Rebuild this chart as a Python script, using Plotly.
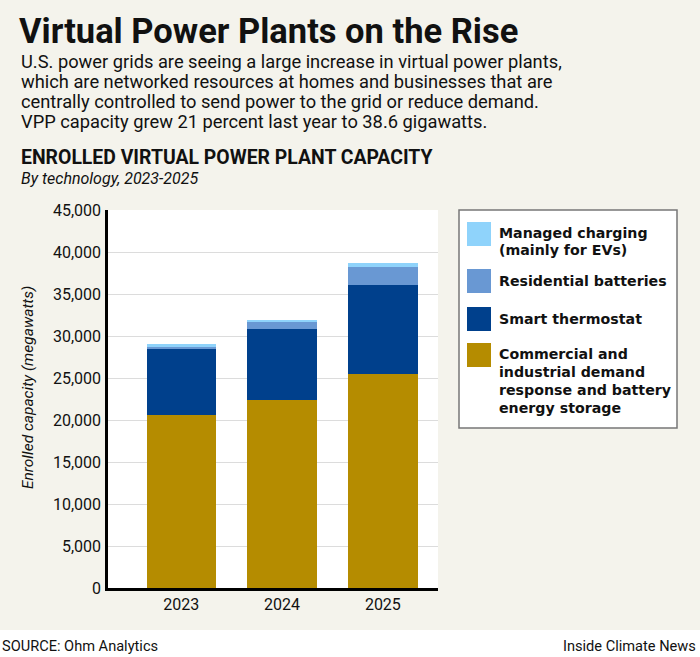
import plotly.graph_objects as go

# data (megawatts)
years = ["2023", "2024", "2025"]
commercial_industrial = [20600, 22400, 25500]
smart_thermostat = [7900, 8450, 10550]
residential_batteries = [300, 870, 2200]
managed_charging = [200, 200, 400]

series_names = [
    ["Commercial and", "industrial demand", "response and battery", "energy storage"],
    ["Smart thermostat"],
    ["Residential batteries"],
    ["Managed charging", "(mainly for EVs)"],
]
series_values = [commercial_industrial, smart_thermostat, residential_batteries, managed_charging]
series_colors = ["#b58c00", "#00408c", "#6998d3", "#8fd3fb"]

y_ticks = [0, 5000, 10000, 15000, 20000, 25000, 30000, 35000, 40000, 45000]

intro_lines = [
    "U.S. power grids are seeing a large increase in virtual power plants,",
    "which are networked resources at homes and businesses that are",
    "centrally controlled to send power to the grid or reduce demand.",
    "VPP capacity grew 21 percent last year to 38.6 gigawatts.",
]

W, H = 700, 657
L, R, T, B = 108, 438, 210, 588  # plot area in pixels
BEIGE = "#f4f3ec"
FONT = "Roboto"


def px(x):
    return (x - L) / (R - L)


def py(y):
    return (B - y) / (B - T)


def note(text, x, y, **kw):
    d = dict(text=text, x=px(x), y=py(y), xref="paper", yref="paper", showarrow=False,
             xanchor="left", yanchor="middle")
    d.update(kw)
    return d


fig = go.Figure()
for name, vals, col in zip(series_names, series_values, series_colors):
    fig.add_trace(go.Bar(x=years, y=vals, name=" ".join(name), marker_color=col,
                         marker_line_width=0, showlegend=False))

fig.update_layout(
    barmode="stack",
    bargap=0.3125,
    width=W, height=H,
    margin=dict(l=L, r=W - R, t=T, b=H - B),
    paper_bgcolor=BEIGE,
    plot_bgcolor="white",
    font=dict(family=FONT, color="#111"),
)
fig.update_xaxes(range=[-0.727, 2.547], showline=True, linecolor="black", linewidth=2.5,
                 tickfont=dict(size=16), ticks="", showgrid=False)
fig.update_yaxes(range=[0, 45000], tickvals=y_ticks,
                 ticktext=[f"{v:,}" for v in y_ticks], tickfont=dict(size=16),
                 showline=True, linecolor="black", linewidth=2.5, gridcolor="#dcdcdc",
                 gridwidth=1, ticks="", ticklabelstandoff=1, zeroline=False)

shapes = [
    # white strip behind the source line
    dict(type="rect", xref="paper", yref="paper", x0=px(0), x1=px(W), y0=py(H), y1=py(630),
         fillcolor="white", line_width=0, layer="below"),
    # legend box
    dict(type="rect", xref="paper", yref="paper", x0=px(459), x1=px(677), y0=py(428), y1=py(210),
         fillcolor="white", line=dict(color="#777", width=1.5)),
]
annotations = [
    note("<b>Virtual Power Plants on the Rise</b>", 17, 31, font=dict(size=34.5, weight=900)),
    note("<b>ENROLLED VIRTUAL POWER PLANT CAPACITY</b>", 19, 158, font=dict(size=19.4)),
    note("<i>By technology, 2023-2025</i>", 19, 178, font=dict(size=16)),
    note("<i>Enrolled capacity (megawatts)</i>", 28, 388, xanchor="center", textangle=-90,
         font=dict(size=15.5)),
    note("SOURCE: Ohm Analytics", 0, 646, font=dict(size=14.6)),
    note("Inside Climate News", 698, 646, xanchor="right", font=dict(size=14.6)),
]
for line, y in zip(intro_lines, [61, 81.3, 101.6, 121.9]):
    annotations.append(note(line, 19, y, font=dict(size=18.3)))

# hand-built legend, top item first
swatch_tops = [222, 269, 307, 343]
for lines, col, top in zip(series_names[::-1], series_colors[::-1], swatch_tops):
    shapes.append(dict(type="rect", xref="paper", yref="paper", x0=px(467), x1=px(491),
                       y0=py(top + 24), y1=py(top), fillcolor=col, line_width=0))
    first = top + 10.5 if len(lines) > 1 else top + 12
    for i, line in enumerate(lines):
        annotations.append(note(f"<b>{line}</b>", 497, first + 18 * i,
                                font=dict(size=14.2, family="DejaVu Sans")))

fig.update_layout(shapes=shapes, annotations=annotations)
fig.write_html("out.html", config={"displayModeBar": False},
               post_script="document.body.style.margin='0';")
